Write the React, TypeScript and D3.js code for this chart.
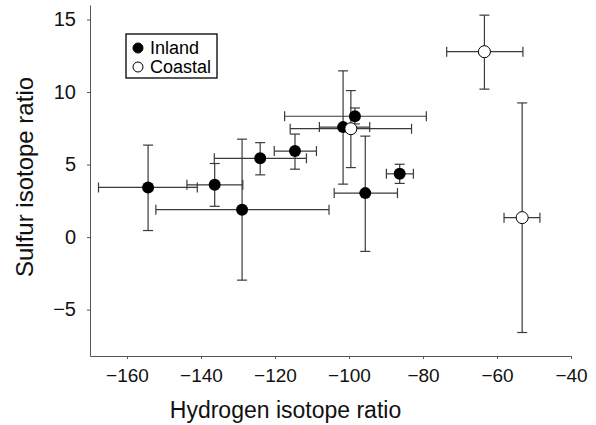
import { useEffect, useRef } from 'react'
import * as d3 from 'd3'

// hydrogen (x), sulfur (y) and their error ranges
const inlandH = [-154.3, -136.3, -128.9, -124.0, -114.6, -101.6, -98.4, -86.3, -95.6]
const inlandS = [3.42, 3.6, 1.89, 5.43, 5.93, 7.58, 8.33, 4.36, 3.03]
const inlandHErr = [
  [-167.7, -141.0], [-143.8, -128.7], [-152.2, -105.4], [-136.4, -111.5], [-120.2, -108.8],
  [-108.0, -94.4], [-117.4, -79.1], [-89.9, -82.6], [-104.0, -86.9]
]
const inlandSErr = [
  [0.45, 6.34], [2.12, 5.07], [-2.97, 6.75], [4.29, 6.51], [4.68, 7.1],
  [3.65, 11.46], [7.8, 8.9], [3.7, 5.02], [-0.99, 6.96]
]

const coastalH = [-99.5, -63.4, -53.2]
const coastalS = [7.47, 12.78, 1.34]
const coastalHErr = [[-115.9, -83.1], [-73.6, -53.0], [-58.1, -48.4]]
const coastalSErr = [[4.79, 10.1], [10.2, 15.3], [-6.58, 9.25]]

const xTicks = [-160, -140, -120, -100, -80, -60, -40]
const yTicks = [-5, 0, 5, 10, 15]

const font = "'Liberation Sans', Arial, Helvetica, sans-serif"

function App() {
  const svgRef = useRef<SVGSVGElement>(null)

  useEffect(() => {
    const width = 596
    const height = 425
    const svg = d3.select(svgRef.current)
    svg.selectAll('*').remove()
    svg.attr('width', width).attr('height', height)

    const x = d3.scaleLinear().domain([-170, -40]).range([90, 571])
    const y = d3.scaleLinear().domain([-8.2, 16]).range([356, 5])

    const axisColor = '#555'

    // eixo Y
    const yAxis = svg.append('g')
      .attr('transform', `translate(${x.range()[0]},0)`)
      .call(d3.axisLeft(y).tickValues(yTicks).tickSize(3).tickSizeOuter(0)
        .tickFormat(d => d3.format('d')(d as number).replace('-', '\u2212')))
    yAxis.select('.domain').attr('stroke', axisColor)
    yAxis.selectAll('.tick line').attr('stroke', axisColor)
    yAxis.selectAll('.tick text')
      .attr('x', -14)
      .attr('fill', '#111')
      .style('font-family', font)
      .style('font-size', '20px')

    // eixo X
    const xAxis = svg.append('g')
      .attr('transform', `translate(0,${y.range()[0]})`)
      .call(d3.axisBottom(x).tickValues(xTicks).tickSize(3).tickSizeOuter(0)
        .tickFormat(d => d3.format('d')(d as number).replace('-', '\u2212')))
    xAxis.select('.domain').attr('stroke', axisColor)
    xAxis.selectAll('.tick line').attr('stroke', axisColor)
    xAxis.selectAll('.tick text')
      .attr('y', 13)
      .attr('fill', '#111')
      .style('font-family', font)
      .style('font-size', '19px')

    svg.append('text')
      .attr('x', (x.range()[0] + x.range()[1]) / 2 - 45)
      .attr('y', 418)
      .attr('text-anchor', 'middle')
      .attr('fill', '#111')
      .style('font-family', font)
      .style('font-size', '23px')
      .text('Hydrogen isotope ratio')

    svg.append('text')
      .attr('transform', 'translate(33,177) rotate(-90)')
      .attr('text-anchor', 'middle')
      .attr('fill', '#111')
      .style('font-family', font)
      .style('font-size', '24px')
      .text('Sulfur isotope ratio')

    const cap = 5
    const drawErrors = (hs: number[], ss: number[], hErr: number[][], sErr: number[][]) => {
      const g = svg.append('g').attr('stroke', '#3a3a3a').attr('stroke-width', 1.2).attr('fill', 'none')
      hs.forEach((h, i) => {
        const cx = x(h)
        const cy = y(ss[i])
        const [x0, x1] = hErr[i]
        const [y0, y1] = sErr[i]
        g.append('line').attr('x1', x(x0)).attr('x2', x(x1)).attr('y1', cy).attr('y2', cy)
        g.append('line').attr('x1', x(x0)).attr('x2', x(x0)).attr('y1', cy - cap).attr('y2', cy + cap)
        g.append('line').attr('x1', x(x1)).attr('x2', x(x1)).attr('y1', cy - cap).attr('y2', cy + cap)
        g.append('line').attr('x1', cx).attr('x2', cx).attr('y1', y(y0)).attr('y2', y(y1))
        g.append('line').attr('x1', cx - cap).attr('x2', cx + cap).attr('y1', y(y0)).attr('y2', y(y0))
        g.append('line').attr('x1', cx - cap).attr('x2', cx + cap).attr('y1', y(y1)).attr('y2', y(y1))
      })
    }

    drawErrors(inlandH, inlandS, inlandHErr, inlandSErr)
    drawErrors(coastalH, coastalS, coastalHErr, coastalSErr)

    svg.append('g').selectAll('circle')
      .data(inlandH)
      .enter()
      .append('circle')
      .attr('cx', d => x(d))
      .attr('cy', (_, i) => y(inlandS[i]))
      .attr('r', 6)
      .attr('fill', '#000')

    svg.append('g').selectAll('circle')
      .data(coastalH)
      .enter()
      .append('circle')
      .attr('cx', d => x(d))
      .attr('cy', (_, i) => y(coastalS[i]))
      .attr('r', 6)
      .attr('fill', '#fff')
      .attr('stroke', '#000')
      .attr('stroke-width', 1)

    // legenda
    const legend = svg.append('g').attr('transform', 'translate(126,34)')
    legend.append('rect')
      .attr('width', 91)
      .attr('height', 44)
      .attr('fill', '#fff')
      .attr('stroke', '#000')
      .attr('stroke-width', 1.3)
    const items = [
      { label: 'Inland', fill: '#000' },
      { label: 'Coastal', fill: '#fff' }
    ]
    items.forEach((it, i) => {
      const cy = 14 + i * 19
      legend.append('circle')
        .attr('cx', 12)
        .attr('cy', cy)
        .attr('r', 5)
        .attr('fill', it.fill)
        .attr('stroke', '#000')
        .attr('stroke-width', 1)
      legend.append('text')
        .attr('x', 24)
        .attr('y', cy + 6)
        .attr('fill', '#000')
        .style('font-family', font)
        .style('font-size', '18px')
        .text(it.label)
    })
  }, [])

  return (
    <svg ref={svgRef} style={{ position: 'absolute', left: 0, top: 0, background: '#fff' }}></svg>
  )
}

export default App
